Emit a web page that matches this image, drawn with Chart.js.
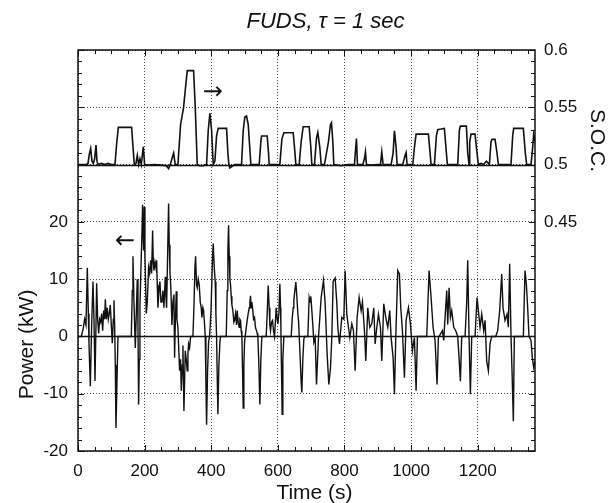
<!DOCTYPE html>
<html>
<head>
<meta charset="utf-8">
<script src="https://cdn.jsdelivr.net/npm/chart.js@4/dist/chart.umd.min.js"></script>
<style>
  body { margin: 0; background: #fff; }
</style>
</head>
<body>
<canvas id="chart" width="614" height="503"></canvas>
<script>
// tick labels
const timeTicks = [0, 200, 400, 600, 800, 1000, 1200];
const powerTicks = [-20, -10, 0, 10, 20];
const socTicks = [0.45, 0.5, 0.55, 0.6];

// power trace (left axis)
const powerTime = [0, 10, 16, 20, 24, 28, 31, 33, 37, 41, 45, 48, 51, 54, 56, 59, 62, 65, 68, 71, 74, 77, 80, 82, 85, 88, 91, 94, 97, 100,
  103, 106, 108, 110, 112, 114, 117, 120, 160, 163, 165, 168, 172, 175, 178, 180, 182, 184, 186, 189, 192, 194, 196, 197, 199, 201,
  203, 205, 208, 212, 215, 218, 221, 224, 226, 228, 231, 234, 236, 238, 240, 243, 246, 249, 252, 255, 258, 262, 264, 266, 269, 272,
  274, 276, 279, 282, 285, 288, 290, 292, 295, 297, 300, 303, 305, 308, 310, 313, 315, 318, 320, 322, 325, 328, 330, 332, 335, 338,
  345, 348, 351, 353, 356, 358, 361, 364, 367, 370, 372, 375, 377, 380, 382, 384, 386, 389, 392, 395, 399, 402, 404, 406, 409, 412,
  414, 416, 418, 420, 423, 426, 428, 445, 448, 450, 452, 454, 456, 458, 460, 462, 465, 468, 470, 473, 476, 478, 481, 484, 486, 488,
  490, 492, 494, 496, 498, 500, 502, 505, 508, 511, 514, 516, 518, 520, 522, 524, 527, 530, 533, 536, 538, 540, 543, 546, 549, 552,
  565, 568, 571, 574, 576, 578, 581, 584, 587, 590, 593, 595, 598, 600, 603, 606, 608, 609, 611, 613, 615, 618, 640, 643, 646, 648,
  651, 654, 657, 660, 662, 665, 667, 670, 672, 675, 678, 680, 690, 694, 697, 699, 702, 705, 708, 712, 716, 722, 730, 737, 742, 748,
  753, 758, 762, 766, 772, 777, 780, 785, 792, 798, 802, 807, 812, 816, 822, 827, 832, 838, 844, 850, 854, 860, 864, 870, 876, 882,
  888, 892, 896, 902, 908, 912, 918, 924, 930, 936, 940, 946, 950, 954, 960, 965, 969, 974, 980, 985, 992, 998, 1004, 1010, 1015, 1019,
  1047, 1054, 1060, 1066, 1072, 1078, 1082, 1088, 1094, 1098, 1102, 1107, 1110, 1114, 1118, 1122, 1128, 1134, 1140, 1144, 1148, 1152,
  1162, 1167, 1170, 1174, 1178, 1182, 1192, 1198, 1202, 1207, 1212, 1218, 1222, 1227, 1232, 1237, 1242, 1254, 1260, 1266, 1272, 1276,
  1282, 1288, 1292, 1296, 1300, 1303, 1307, 1310, 1337, 1342, 1346, 1350, 1354, 1360, 1364, 1368, 1372];
const powerKW = [0, 0, 1.5, 3, 2, 12, 4, -1.3, -8.7, 2, 9.6, 3, -7.8, 2, 9.3, 3, 0.5, 3, 2.5, 4, 1, 4.5, 3, 6.5, 3, 5, 3, 4, 5.5, 2,
  -1.2, 3, 6.3, 2, -5, -16, -8, 0, 0, 8, 14, 6, -2, 4, 10, 2, -11.9, -4, 5.5, 12, 18, 23, 17, 15, 22.6, 14,
  9, 4, 6, 12, 11, 13.3, 11, 18.5, 13, 11.5, 13, 12, 13.3, 9, 5, 8, 9.6, 6, 6, 8, 5, 10.4, 7, 5, 14, 23.2,
  16, 11.5, 8, 2, 6, 7.3, -3.7, 2, 7.9, 3, 1.6, -3, -6, -4, -9.5, -5, -1.6, -13, -8, -2.5, -4, -6, -3, -1.3, -2, 0,
  0, 5, 12, 14, 9, 8.5, 10, 9, 6, 5, 3.3, 5, 4.5, 2, 0, -8, -15.4, -6, -1, 0, 4, 10, 14, 16.2, 12, 9.6,
  4, 0, -7, -13.6, -5, -1, 0, 0, 8, 15, 19.4, 14, 10, 9, 7, 5.5, 4.5, 2.5, 2.8, 4, 2, 4.5, 2.5, 1.6, 3, 2.8,
  1, 0, -6, -12.5, -5, -1, 0, 1.5, 2.8, 4, 5, 6, 7.1, 5, 6, 5, 3, 3.3, 1.5, 1, 0.5, 0, -5, -11.9, -4, 0,
  0, 4, 8.9, 5, 2, 1, 2.5, 2.8, 1, 0, 3, 5, 3, 2.2, 4, 9.2, 5, 2, -6, -13.6, -4, 0, 0, 3, 5, 6.3,
  8, 9.5, 7, 4, 2.8, -1, -3.7, -8, -9.8, -4, -0.5, 0, 0, 6.8, 6, 7, 4.5, 2, -1, -0.2, -8.4, -0.2, 6.8, 9.8, 5.7, -3.1,
  -8.4, -5.5, -0.2, 9.6, 10.2, 5.9, 1.6, -1.3, 3.3, 3, 11.5, 3.9, 1.6, -0.2, 2.2, 1, -6, 3.3, 6.8, 4.5, 6, 1, -4.3, 5, 1.6, 2.2,
  5, -1.3, 1, 3.9, 1.6, -4.3, 5.7, 3.3, 1.6, 4.5, -0.2, -3.7, -10.1, -0.2, 11.5, 10.9, 5, 1, -7.2, 2.8, 5, 2.2, -2.5, -0.2, -9.5, 0,
  0, 11.5, 6.8, 1.6, -0.7, -8.4, -0.2, 0.4, 1, -0.7, 3.3, 8, 2.1, 8.5, 3.3, 4.5, 1.6, 1, 0, -3.7, -7.8, 0,
  0, 6, 13.3, 0, -10.1, 0, 0, 6.8, 4.5, 1.6, 3.9, 1, 2.8, -4.3, -6, -1.3, 0, 0, 1, 4.5, 10.9, 5,
  2.8, 3.9, 1.6, 12.7, 0, -6, -14.8, 0, 0, 11.5, 9.2, 5, 0, -0.7, -3.7, -5.4, -4.3];

// state of charge (right axis)
const socTime = [0, 24, 30, 34, 38, 42, 46, 50, 54, 57, 60, 70, 80, 90, 100, 111, 116, 121, 161, 164, 169, 174, 178, 182, 186, 190,
  196, 200, 210, 230, 250, 265, 272, 278, 287, 292, 300, 308, 317, 322, 328, 347, 352, 358, 365, 375, 386, 391, 396, 401, 406, 411,
  416, 421, 446, 450, 453, 456, 470, 491, 496, 501, 506, 511, 519, 544, 549, 551, 568, 572, 574, 590, 606, 612, 618, 646, 650, 654,
  664, 670, 676, 694, 699, 702, 710, 716, 720, 726, 730, 740, 752, 758, 761, 765, 768, 790, 810, 830, 833, 836, 839, 855, 860, 863,
  866, 880, 900, 908, 912, 916, 940, 946, 950, 955, 958, 975, 982, 985, 988, 1005, 1010, 1015, 1052, 1057, 1060, 1070, 1076, 1080,
  1090, 1100, 1106, 1109, 1140, 1145, 1148, 1166, 1170, 1174, 1176, 1180, 1192, 1198, 1202, 1210, 1218, 1226, 1235, 1240, 1243, 1252,
  1258, 1262, 1300, 1305, 1308, 1337, 1343, 1347, 1360, 1365, 1368, 1372];
const socValue = [0.5, 0.5, 0.501, 0.509, 0.514, 0.503, 0.501, 0.505, 0.517, 0.503, 0.5, 0.501, 0.5, 0.501, 0.5, 0.5, 0.518, 0.5325,
  0.5325, 0.52, 0.5, 0.501, 0.508, 0.5, 0.505, 0.5, 0.5155, 0.5, 0.4995, 0.5, 0.4995, 0.499, 0.4965, 0.501, 0.51, 0.5, 0.5, 0.535,
  0.55, 0.565, 0.582, 0.582, 0.55, 0.5, 0.499, 0.499, 0.5, 0.53, 0.5447, 0.53, 0.5, 0.503, 0.525, 0.5316, 0.5316, 0.51, 0.5, 0.497,
  0.5, 0.5, 0.53, 0.5415, 0.5424, 0.535, 0.5, 0.5, 0.52, 0.5249, 0.5249, 0.51, 0.5, 0.5, 0.5, 0.522, 0.5278, 0.5278, 0.515, 0.5,
  0.5, 0.52, 0.533, 0.533, 0.515, 0.5, 0.5, 0.523, 0.528, 0.515, 0.5, 0.5, 0.52, 0.535, 0.5365, 0.52, 0.5, 0.499, 0.5, 0.5, 0.512,
  0.5228, 0.5, 0.5, 0.505, 0.511, 0.5, 0.4995, 0.5, 0.5, 0.511, 0.5, 0.5, 0.51, 0.5295, 0.515, 0.5, 0.5, 0.508, 0.5105, 0.5, 0.5,
  0.515, 0.5266, 0.5266, 0.51, 0.5, 0.5, 0.525, 0.5305, 0.531, 0.5316, 0.51, 0.5, 0.5, 0.53, 0.5336, 0.5336, 0.51, 0.5, 0.52, 0.5266,
  0.5266, 0.51, 0.5, 0.501, 0.5, 0.503, 0.5, 0.52, 0.522, 0.522, 0.51, 0.5, 0.5, 0.525, 0.5316, 0.5316, 0.51, 0.5, 0.5, 0.515, 0.526,
  0.52];

// solid reference lines (kW): zero power and the S.O.C. = 0.5 baseline
const solidLevels = [0, 30];

const FONT = "'Liberation Sans', Arial, sans-serif";

// label lookup that tolerates float noise in the generated tick values
function pickLabel(list, v) {
  const hit = list.find((s) => Math.abs(s - v) < 1e-6);
  return hit === undefined ? "" : String(hit);
}

// inward ticks, solid lines, frame, title, axis titles and the arrows
const decorations = {
  id: "decorations",
  beforeDatasetsDraw(chart) {
    const { ctx, chartArea: a, scales } = chart;
    ctx.save();
    ctx.strokeStyle = "#111";
    ctx.lineWidth = 1.3;
    solidLevels.forEach((v) => {
      const y = Math.round(scales.y.getPixelForValue(v)) + 0.5;
      ctx.beginPath();
      ctx.moveTo(a.left, y);
      ctx.lineTo(a.right, y);
      ctx.stroke();
    });
    ctx.restore();
  },
  afterDatasetsDraw(chart) {
    const { ctx, chartArea: a, scales } = chart;
    ctx.save();
    ctx.strokeStyle = "#111";
    ctx.lineWidth = 1;
    ctx.beginPath();
    for (let t = 0; t <= scales.x.max; t += 50) {
      const x = Math.round(scales.x.getPixelForValue(t)) + 0.5;
      const len = t % 200 === 0 ? 6 : 4;
      ctx.moveTo(x, a.bottom);
      ctx.lineTo(x, a.bottom - len);
      ctx.moveTo(x, a.top);
      ctx.lineTo(x, a.top + len);
    }
    for (let v = scales.y.min; v <= scales.y.max; v += 2) {
      const y = Math.round(scales.y.getPixelForValue(v)) + 0.5;
      const len = v % 10 === 0 ? 6 : 4;
      ctx.moveTo(a.left, y);
      ctx.lineTo(a.left + len, y);
      ctx.moveTo(a.right, y);
      ctx.lineTo(a.right - len, y);
    }
    ctx.stroke();
    ctx.lineWidth = 1.5;
    ctx.strokeRect(a.left, a.top, a.right - a.left, a.bottom - a.top);

    ctx.fillStyle = "#111";
    ctx.textAlign = "center";
    ctx.textBaseline = "middle";
    ctx.font = "italic 22px " + FONT;
    ctx.fillText("FUDS, \u03c4 = 1 sec", (a.left + a.right) / 2 + 19, 22);

    ctx.font = "21px " + FONT;
    ctx.fillText("Time (s)", (a.left + a.right) / 2 + 8, 493);
    ctx.save();
    ctx.translate(27, scales.y.getPixelForValue(-1.4));
    ctx.rotate(-Math.PI / 2);
    ctx.fillText("Power (kW)", 0, 0);
    ctx.restore();
    ctx.save();
    ctx.translate(597, scales.y1.getPixelForValue(0.521));
    ctx.rotate(Math.PI / 2);
    ctx.fillText("S.O.C.", 0, 0);
    ctx.restore();

    ctx.font = "24px 'DejaVu Sans'";
    ctx.fillText("\u2192", scales.x.getPixelForValue(405), scales.y.getPixelForValue(42.5));
    ctx.fillText("\u2190", scales.x.getPixelForValue(141), scales.y.getPixelForValue(16.5));
    ctx.restore();
  }
};

const gridDash = { display: false, dash: [1, 2] };
const tickFont = { family: FONT, size: 17 };

new Chart(document.getElementById("chart"), {
  type: "line",
  data: {
    datasets: [
      {
        label: "Power",
        data: powerTime.map((t, i) => ({ x: t, y: powerKW[i] })),
        yAxisID: "y",
        borderColor: "#111",
        borderWidth: 1.4,
        pointRadius: 0,
        tension: 0
      },
      {
        label: "S.O.C.",
        data: socTime.map((t, i) => ({ x: t, y: socValue[i] })),
        yAxisID: "y1",
        borderColor: "#111",
        borderWidth: 1.6,
        pointRadius: 0,
        tension: 0
      }
    ]
  },
  options: {
    responsive: false,
    animation: false,
    devicePixelRatio: 1,
    layout: { padding: { top: 50 } },
    plugins: {
      legend: { display: false },
      tooltip: { enabled: false }
    },
    scales: {
      x: {
        type: "linear",
        min: 0,
        max: 1372,
        // Chart.js would stretch the step to 196 to fit 1372 s, so pin the ticks to 200 s
        afterBuildTicks: (s) => { s.ticks = timeTicks.map((v) => ({ value: v })); },
        afterFit: (s) => { s.height = 52; },
        border: gridDash,
        grid: { color: "#444", lineWidth: 1, drawTicks: false },
        ticks: {
          autoSkip: false,
          padding: 10,
          color: "#111",
          font: tickFont,
          maxRotation: 0,
          callback: (v) => pickLabel(timeTicks, v)
        }
      },
      y: {
        position: "left",
        min: -20,
        max: 50,
        afterFit: (s) => { s.width = 78; },
        border: gridDash,
        grid: { color: "#444", lineWidth: 1, drawTicks: false },
        ticks: {
          stepSize: 10,
          autoSkip: false,
          padding: 10,
          color: "#111",
          font: tickFont,
          callback: (v) => pickLabel(powerTicks, v)
        }
      },
      y1: {
        position: "right",
        min: 0.25,
        max: 0.6,
        afterFit: (s) => { s.width = 79; },
        border: { display: false },
        grid: { display: false, drawTicks: false },
        ticks: {
          stepSize: 0.05,
          autoSkip: false,
          padding: 9,
          color: "#111",
          font: tickFont,
          callback: (v) => pickLabel(socTicks, v)
        }
      }
    }
  },
  plugins: [decorations]
});
</script>
</body>
</html>
